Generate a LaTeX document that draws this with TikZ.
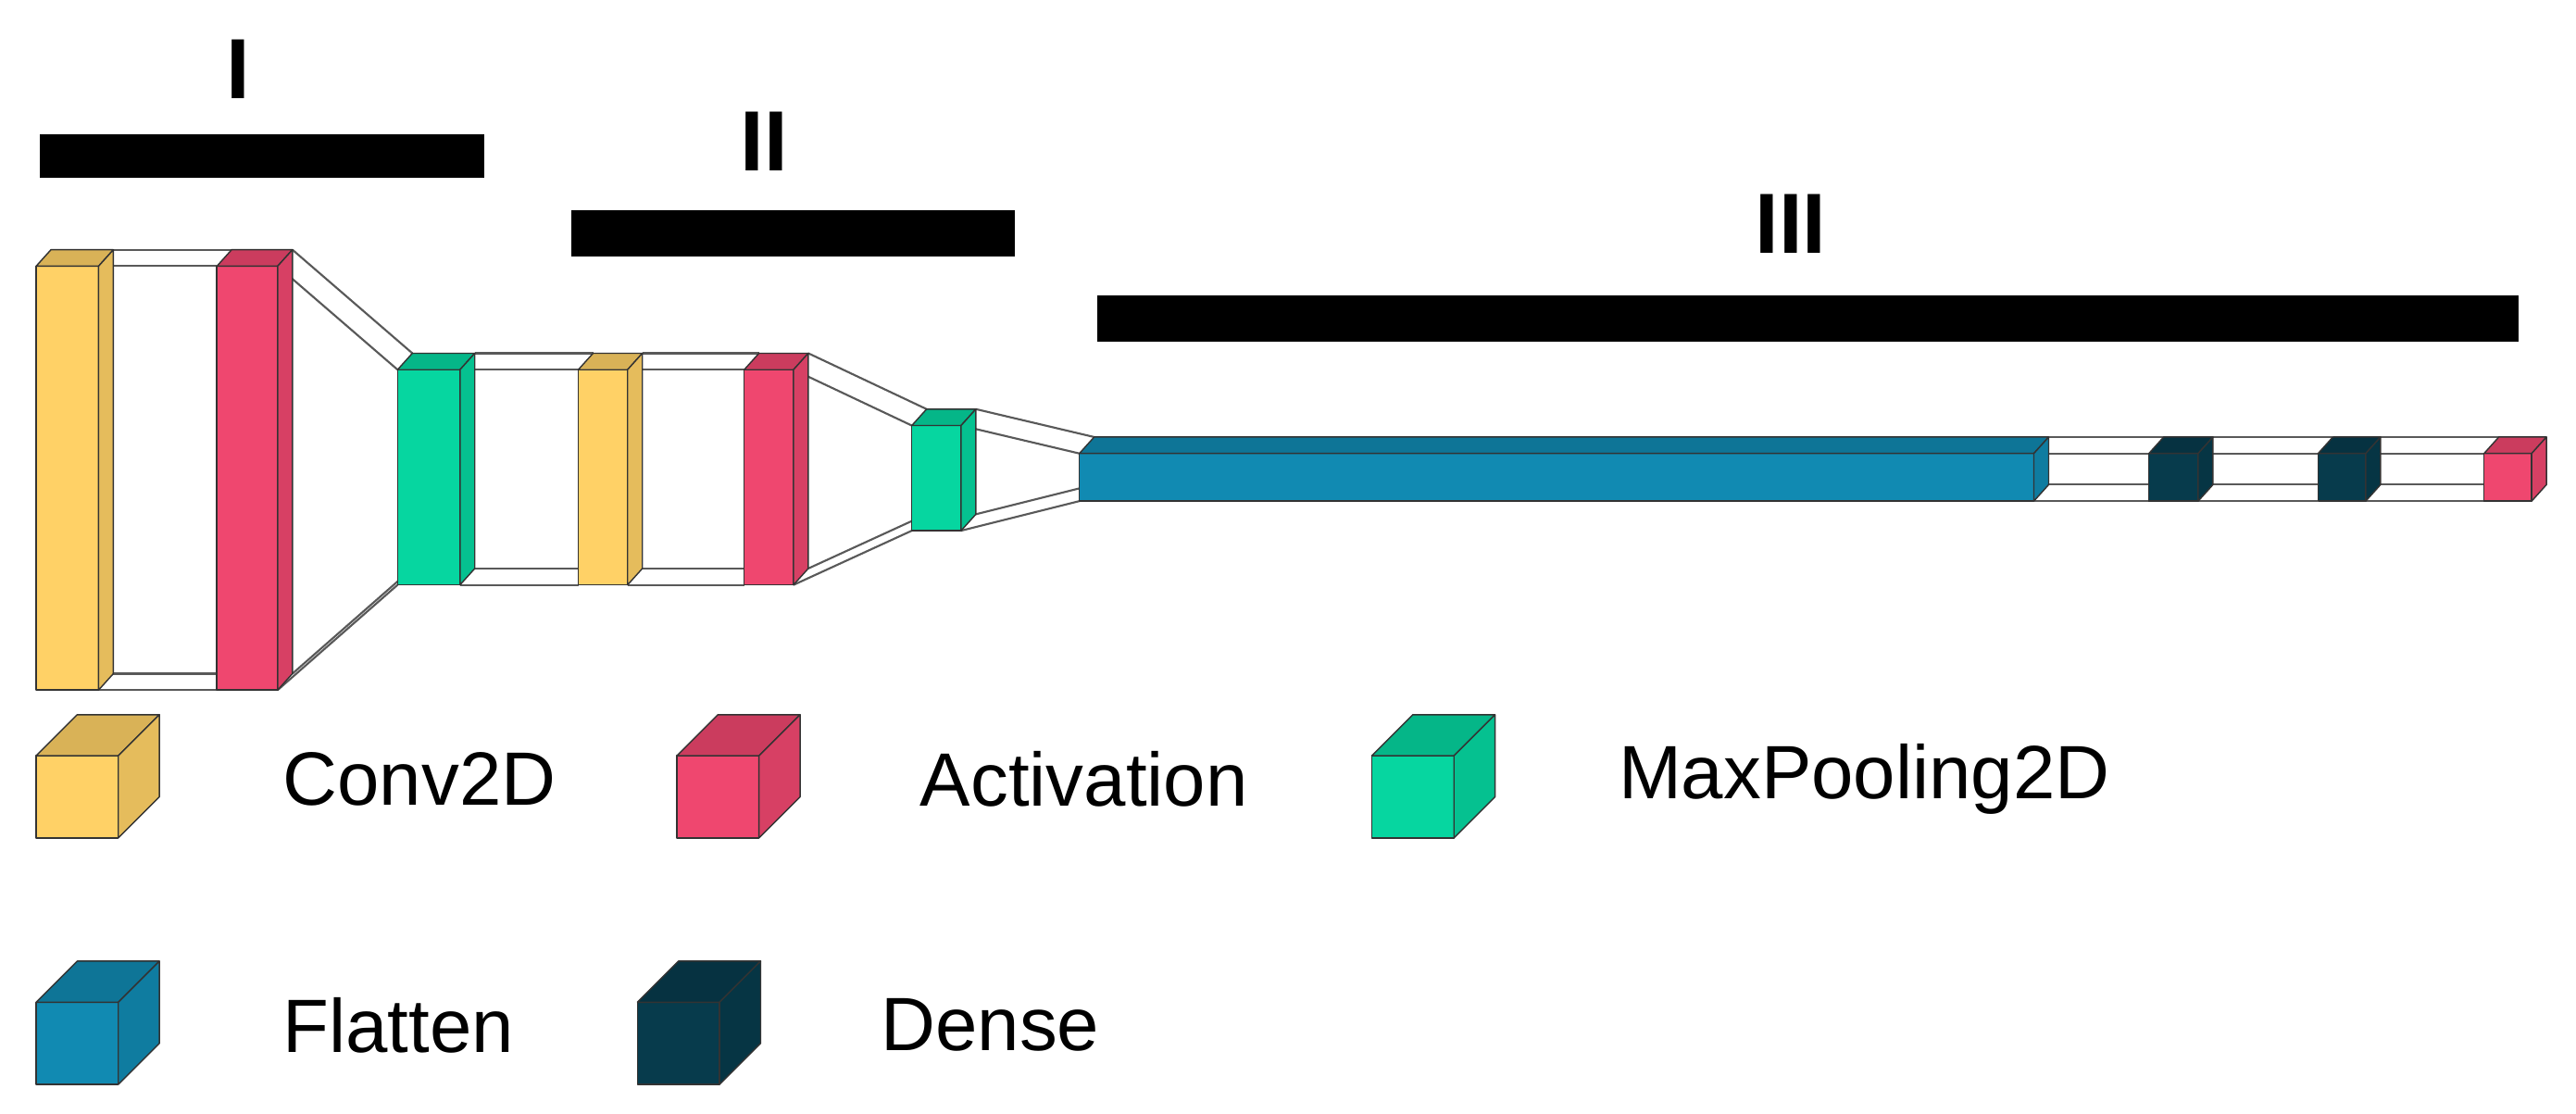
\documentclass[tikz,border=0pt]{standalone}
\usepackage{fontspec}
\setmainfont{Liberation Sans}
\usetikzlibrary{calc}
\definecolor{cconv}{HTML}{FFD166}
\definecolor{cact}{HTML}{EF476F}
\definecolor{cpool}{HTML}{06D6A0}
\definecolor{cflat}{HTML}{118AB2}
\definecolor{cdense}{HTML}{073B4C}
\newcommand\deflay[5]{%
  \coordinate (#1-ftl) at (#2,#4); \coordinate (#1-ftr) at (#3,#4);
  \coordinate (#1-fbl) at (#2,#5); \coordinate (#1-fbr) at (#3,#5);
  \coordinate (#1-btl) at ($(#1-ftl)+(d)$); \coordinate (#1-btr) at ($(#1-ftr)+(d)$);
  \coordinate (#1-bbl) at ($(#1-fbl)+(d)$); \coordinate (#1-bbr) at ($(#1-fbr)+(d)$);}
\newcommand\boxlay[2]{%
  \draw[edge, fill=#2] (#1-ftl) rectangle (#1-fbr);
  \draw[edge, fill=#2!85!black] (#1-ftl) -- (#1-btl) -- (#1-btr) -- (#1-ftr) -- cycle;
  \draw[edge, fill=#2!90!black] (#1-ftr) -- (#1-btr) -- (#1-bbr) -- (#1-fbr) -- cycle;}
\newcommand\linklay[2]{%
  \draw[conn] (#1-ftr) -- (#2-ftl); \draw[conn] (#1-btr) -- (#2-btl);
  \draw[conn] (#1-fbr) -- (#2-fbl); \draw[conn] (#1-bbr) -- (#2-bbl);}
\begin{document}
\begin{tikzpicture}[x=1pt,y=-1pt,
  edge/.style={draw=black!80, line width=0.8pt, line join=round},
  conn/.style={draw=black!65, line width=1.2pt},
  bar/.style={fill=black, draw=none},
  roman/.style={font=\fontsize{52}{60}\selectfont\bfseries, inner sep=0pt},
  leg/.style={font=\fontsize{46}{54}\selectfont, anchor=west, inner sep=0pt}]
\useasboundingbox (0,0) rectangle (1568,678);
\coordinate (d) at (9,-10);
% bars and labels
\path[bar] (24,82) rectangle (295,108);
\path[bar] (348,128) rectangle (618,156);
\path[bar] (668,180) rectangle (1533,208);
\node[roman] (lI) at (145,42) {I};
\node[roman] (lII) at (465,86) {II};
\node[roman] (lIII) at (1090,136) {III};
% layers
\deflay{c1}{22}{60}{162}{420}
\deflay{a1}{132}{169}{162}{420}
\deflay{p1}{242}{280}{225}{356}
\deflay{c2}{352}{382}{225}{356}
\deflay{a2}{453}{483}{225}{356}
\deflay{p2}{555}{585}{259}{323}
\deflay{f}{657}{1238}{276}{305}
\deflay{d1}{1308}{1338}{276}{305}
\deflay{d2}{1411}{1440}{276}{305}
\deflay{a3}{1512}{1541}{276}{305}
\linklay{c1}{a1}\linklay{a1}{p1}\linklay{p1}{c2}\linklay{c2}{a2}
\linklay{a2}{p2}\linklay{p2}{f}\linklay{f}{d1}\linklay{d1}{d2}\linklay{d2}{a3}
\boxlay{c1}{cconv}\boxlay{a1}{cact}\boxlay{p1}{cpool}\boxlay{c2}{cconv}
\boxlay{a2}{cact}\boxlay{p2}{cpool}\boxlay{f}{cflat}\boxlay{d1}{cdense}
\boxlay{d2}{cdense}\boxlay{a3}{cact}
% legend
\coordinate (d) at (25,-25);
\deflay{lc}{22}{72}{460}{510}
\deflay{la}{412}{462}{460}{510}
\deflay{lp}{835}{885}{460}{510}
\deflay{lf}{22}{72}{610}{660}
\deflay{ld}{388}{438}{610}{660}
\boxlay{lc}{cconv}\boxlay{la}{cact}\boxlay{lp}{cpool}\boxlay{lf}{cflat}\boxlay{ld}{cdense}
\node[leg] (tc) at (172,474) {Conv2D};
\node[leg] (ta) at (560,474) {Activation};
\node[leg] (tp) at (985,474) {MaxPooling2D};
\node[leg] (tf) at (172,624) {Flatten};
\node[leg] (td) at (536,624) {Dense};
\end{tikzpicture}
\end{document}
